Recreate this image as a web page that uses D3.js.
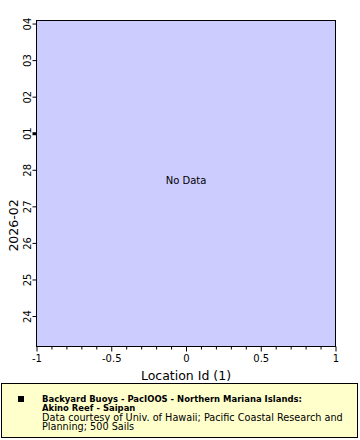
<!DOCTYPE html>
<html><head><meta charset="utf-8">
<script src="https://cdn.jsdelivr.net/npm/d3@7"></script>
<style>body{margin:0;background:#fff}svg{display:block}text{font-family:"DejaVu Sans",sans-serif}</style>
</head><body>
<svg id="c" width="360" height="440"></svg>
<script>
const timeDomain = ["2026-02-23T04:00:00Z", "2026-03-04T02:00:00Z"];
const dayTicks = ["2026-02-24","2026-02-25","2026-02-26","2026-02-27","2026-02-28","2026-03-01","2026-03-02","2026-03-03","2026-03-04"];
const xDomain = [-1, 1];
const xMajorTicks = [-1, -0.5, 0, 0.5, 1];
const xTitle = "Location Id (1)";
const yTitle = "2026-02";
const noDataText = "No Data";
const legendTitle = ["Backyard Buoys - PacIOOS - Northern Mariana Islands:", "Akino Reef - Saipan"];
const legendNote = ["Data courtesy of Univ. of Hawaii; Pacific Coastal Research and", "Planning; 500 Sails"];

const svg = d3.select("#c");
const L = 36.5, R = 335.5, T = 20.5, B = 346.5;
const x = d3.scaleLinear().domain(xDomain).range([L, R]);
const y = d3.scaleUtc().domain(timeDomain.map(d => new Date(d))).range([B, T]);

svg.append("rect").attr("x", L).attr("y", T).attr("width", R - L).attr("height", B - T)
  .attr("fill", "#ccccff").attr("stroke", "#000").attr("stroke-width", 1);

// x axis
const minor = d3.range(-10, 11).map(i => i / 10).filter(v => !xMajorTicks.some(m => Math.abs(m - v) < 1e-9));
const gx = svg.append("g").attr("transform", `translate(0,${B})`);
gx.call(d3.axisBottom(x).tickValues(minor).tickSize(3).tickFormat(""));
gx.append("g").call(d3.axisBottom(x).tickValues(xMajorTicks).tickSize(5).tickPadding(3).tickFormat(d => String(d)));
gx.selectAll(".domain").remove();
gx.selectAll("text").attr("font-size", 10).attr("fill", "#000").attr("font-family", "DejaVu Sans");
gx.selectAll("line").attr("stroke", "#000");

// y axis
const gy = svg.append("g").attr("transform", `translate(${L},0)`);
gy.call(d3.axisLeft(y).tickValues(dayTicks.map(d => new Date(d + "T00:00:00Z"))).tickSize(4).tickFormat(d3.utcFormat("%d")));
gy.selectAll(".domain").remove();
gy.selectAll("line").attr("stroke", "#000")
  .attr("stroke-width", d => d.getUTCDate() === 1 ? 3 : 1);
gy.selectAll("text").attr("font-size", 10).attr("fill", "#000").attr("font-family", "DejaVu Sans")
  .attr("text-anchor", "middle").attr("x", 0)
  .attr("transform", "translate(-9,0) rotate(-90)").attr("dy", "0.35em");

svg.append("text").attr("x", (L + R) / 2).attr("y", 380).attr("text-anchor", "middle")
  .attr("font-size", 12.5).text(xTitle);
svg.append("text").attr("transform", `translate(18,${(T + B) / 2 + 42}) rotate(-90)`).attr("text-anchor", "middle")
  .attr("font-size", 12.5).text(yTitle);

svg.append("text").attr("x", x(0)).attr("y", (T + B) / 2 - 3).attr("text-anchor", "middle")
  .attr("dy", "0.35em").attr("font-size", 10).text(noDataText);

// legend
svg.append("rect").attr("x", 1.5).attr("y", 383.5).attr("width", 356).attr("height", 54)
  .attr("fill", "#ffffcc").attr("stroke", "#000").attr("stroke-width", 1);
svg.append("rect").attr("x", 18).attr("y", 396).attr("width", 6).attr("height", 6).attr("fill", "#000");
const lg = svg.append("g");
legendTitle.forEach((t, i) => {
  const el = lg.append("text").attr("x", 42).attr("y", 402 + i * 9.2)
    .attr("font-size", 9.5).attr("font-weight", "bold").text(t);
  const w = el.node().getComputedTextLength();
  el.attr("textLength", w * 0.89).attr("lengthAdjust", "spacingAndGlyphs");
});
legendNote.forEach((t, i) => lg.append("text").attr("x", 42).attr("y", 420.5 + i * 9.2)
  .attr("font-size", 9.7).text(t));
</script>
</body></html>
